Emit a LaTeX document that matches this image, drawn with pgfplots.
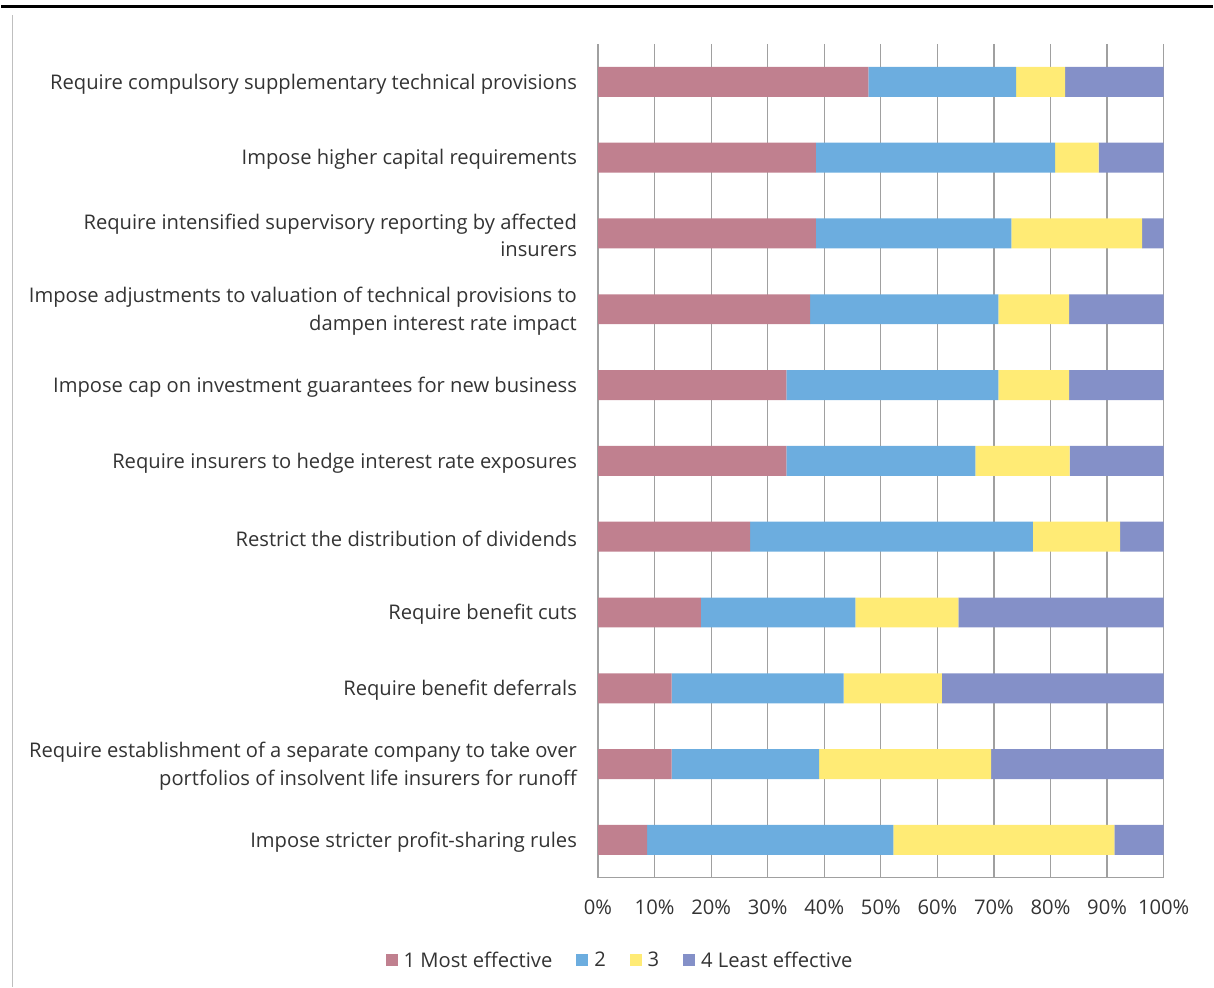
\documentclass[border=0pt]{standalone}
\usepackage{pgfplots}
\pgfplotsset{compat=1.18}
\usepackage{fontspec}
\setmainfont{Open Sans}

\definecolor{cone}{RGB}{192,128,143}
\definecolor{ctwo}{RGB}{108,173,223}
\definecolor{cthree}{RGB}{255,235,117}
\definecolor{cfour}{RGB}{132,144,200}
\definecolor{cgrid}{RGB}{160,160,160}

\newcommand{\lblfont}{\fontsize{20.3}{28}\selectfont}

\begin{document}
\begin{tikzpicture}[x=1bp,y=1bp]
\path (0,0) rectangle (1214,989);
\draw[black, line width=3bp] (0,982) -- (1214,982);
\draw[black!25, line width=1.2bp] (11,0) -- (11,974);

\begin{axis}[
  at={(598bp,109bp)}, anchor=south west,
  scale only axis, width=567bp, height=836bp,
  xbar stacked, bar width=30bp,
  xmin=0, xmax=100, ymin=-0.5, ymax=10.5,
  y dir=reverse,
  clip=false,
  axis line style={draw=none},
  major tick length=0,
  xmajorgrids,
  grid style={cgrid, line width=1.2bp},
  xtick={0,10,...,100},
  xticklabels={0\%,10\%,20\%,30\%,40\%,50\%,60\%,70\%,80\%,90\%,100\%},
  xticklabel style={font=\lblfont, inner sep=0pt, yshift=-22bp, text=black!80},
  ytick={0,...,10},
  yticklabels={
    {Require compulsory supplementary technical provisions},
    {Impose higher capital requirements},
    {Require intensified supervisory reporting by affected\\insurers},
    {Impose adjustments to valuation of technical provisions to\\dampen interest rate impact},
    {Impose cap on investment guarantees for new business},
    {Require insurers to hedge interest rate exposures},
    {Restrict the distribution of dividends},
    {Require benefit cuts},
    {Require benefit deferrals},
    {Require establishment of a separate company to take over\\portfolios of insolvent life insurers for runoff},
    {Impose stricter profit-sharing rules}},
  yticklabel style={font=\lblfont, align=right, inner sep=0pt, xshift=-21bp, yshift=-2bp, text=black!80},
  legend columns=4,
  legend style={at={(0.039,-0.099)}, anchor=center, draw=none, font=\lblfont,
    text=black!80,
    /tikz/every odd column/.append style={column sep=4bp},
    /tikz/every even column/.append style={column sep=22bp}},
  legend image code/.code={\fill[#1] (0bp,-6bp) rectangle (12bp,6bp);},
  legend cell align=left,
]
\addplot[fill=cone, draw=none] coordinates {
  (47.8,0) (38.5,1) (38.5,2) (37.5,3) (33.3,4) (33.3,5)
  (26.9,6) (18.2,7) (13.0,8) (13.0,9) (8.7,10)};
\addlegendentry{1 Most effective}
\addplot[fill=ctwo, draw=none] coordinates {
  (26.1,0) (42.3,1) (34.6,2) (33.3,3) (37.5,4) (33.4,5)
  (50.0,6) (27.3,7) (30.4,8) (26.1,9) (43.5,10)};
\addlegendentry{2}
\addplot[fill=cthree, draw=none] coordinates {
  (8.7,0) (7.7,1) (23.1,2) (12.5,3) (12.5,4) (16.7,5)
  (15.4,6) (18.2,7) (17.4,8) (30.4,9) (39.1,10)};
\addlegendentry{3}
\addplot[fill=cfour, draw=none] coordinates {
  (17.4,0) (11.5,1) (3.8,2) (16.7,3) (16.7,4) (16.6,5)
  (7.7,6) (36.3,7) (39.2,8) (30.5,9) (8.7,10)};
\addlegendentry{4 Least effective}
\draw[cgrid, line width=1.2bp] (axis cs:0,10.5) -- (axis cs:100,10.5);
\end{axis}
\end{tikzpicture}
\end{document}
